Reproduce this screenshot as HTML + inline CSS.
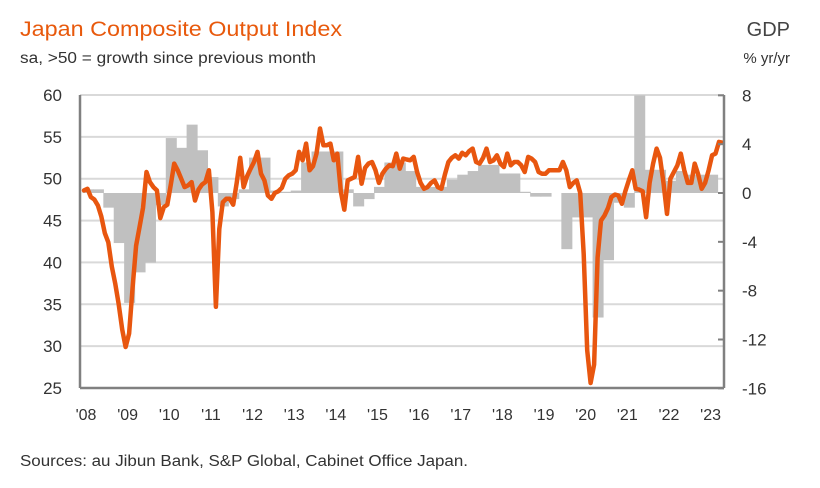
<!DOCTYPE html>
<html><head><meta charset="utf-8">
<style>
body{margin:0;background:#fff;width:820px;height:483px;overflow:hidden;font-family:"Liberation Sans",sans-serif;}
svg text{font-family:"Liberation Sans",sans-serif;}
</style></head>
<body>
<svg id="chart" width="820" height="483" viewBox="0 0 820 483" xmlns="http://www.w3.org/2000/svg">
<text x="20" y="36" font-size="21" fill="#e8590c" textLength="322" lengthAdjust="spacingAndGlyphs">Japan Composite Output Index</text>
<text x="20" y="63" font-size="15.5" fill="#333" textLength="296" lengthAdjust="spacingAndGlyphs">sa, &gt;50 = growth since previous month</text>
<text x="790" y="36" font-size="20" fill="#444" text-anchor="end">GDP</text>
<text x="790" y="63" font-size="15" fill="#333" text-anchor="end">% yr/yr</text>
<text x="20" y="466" font-size="15.5" fill="#333" textLength="448" lengthAdjust="spacingAndGlyphs">Sources: au Jibun Bank, S&amp;P Global, Cabinet Office Japan.</text>
<g id="grid"></g><g id="bars"></g><g id="line"></g><g id="axes"></g>
</svg>
<script>
const pmi=[48.6,48.8,47.8,47.5,46.8,45.5,43.5,42.4,39.5,37.5,35,32,29.9,31.5,37,42,44.2,46.5,50.8,49.6,49,48.6,45.3,46.6,46.9,49.3,51.8,51,50,49,49.2,49.6,47.4,48.7,49.3,49.6,51,46,34.7,44,47.2,47.6,47.6,46.9,49.5,52.5,49,50.3,51.2,52,53.2,50.6,49.8,48,47.6,48.3,48.5,48.9,50,50.4,50.6,51,53.2,52.2,54.2,51,51.5,53,56,54,54,54.2,52.2,53,48.5,46.3,49.8,50,50.2,52.6,49.4,51.3,51.8,52,51,49.5,50.6,51.2,51.6,51.5,53,51.2,52.4,52.3,52.2,52.6,50.8,49.5,48.8,49,49.5,49.8,49,48.8,50.5,52,52.5,52.8,52.4,53.1,52.8,53.3,53.6,52,51.8,52.5,53.6,52,52.2,52.8,51.8,51.4,53,51.6,52,52,51.6,50.8,52.6,52.4,52,50.8,50.6,50.6,51,51,51,51,52,51,49,49.5,49.8,48.3,41,29.5,25.6,27.8,40.6,45,45.6,46.5,47.8,48.1,48,47,48.5,49.8,51,48.8,48.7,48.5,45.4,49.5,51.8,53.6,52.5,49.5,45.8,50,50.8,51.6,53,51,49.5,49.5,51.8,50.5,48.8,49.5,51,52.8,53,54.4,54.3];
const gdp=[0.3,0.3,-1.2,-4.1,-9,-6.5,-5.7,-1,4.5,3.7,5.6,3.5,1.3,-1.1,-0.5,0.3,2.9,2.9,0.2,0.1,0.2,2.5,3.4,3.4,3.4,0.3,-1.1,-0.5,0.5,2.5,2.5,1.8,0.5,0.5,0.5,1.1,1.5,1.8,2.3,2.3,1.6,1.6,0.1,-0.3,-0.3,0.0,-4.6,-2,-2,-10.2,-5.5,-0.8,-1.2,8.5,1.9,1.9,1.0,1.8,1.5,1.5,1.5];
const leftTicks=[60,55,50,45,40,35,30,25];
const rightTicks=[8,4,0,-4,-8,-12,-16];
const yearLabels=["'08","'09","'10","'11","'12","'13","'14","'15","'16","'17","'18","'19","'20","'21","'22","'23"];
const NS="http://www.w3.org/2000/svg";
const X0=84,S=3.47,L=80,R=724,T=95,B=388;
const xm=m=>X0+m*S;
const yl=v=>T+(60-v)*(B-T)/35;
const yr=v=>193-v*(B-T)/24;
function mk(tag,attrs,parent,txt){const e=document.createElementNS(NS,tag);for(const k in attrs)e.setAttribute(k,attrs[k]);if(txt!==undefined)e.textContent=txt;document.getElementById(parent).appendChild(e);return e;}
leftTicks.forEach(v=>{
  if(v>25){const g=mk('line',{x1:L,x2:R,y1:yl(v),y2:yl(v),stroke:'#d9d9d9','stroke-width':2},'grid');
  
  }
  const t=mk('text',{x:62,y:yl(v)+6,'font-size':17,'text-anchor':'end',fill:'#333'},'axes',String(v));
  
  
});
rightTicks.forEach(v=>{
  const t=mk('text',{x:742,y:yr(v)+6,'font-size':17,fill:'#333'},'axes',String(v));
  
  
  const k=mk('line',{x1:R-6,x2:R,y1:yr(v),y2:yr(v),stroke:'#808080','stroke-width':2},'axes');
  
  
});
yearLabels.forEach((s,i)=>{
  const t=mk('text',{x:xm(i*12)+2,y:420,'font-size':16,'text-anchor':'middle',fill:'#333'},'axes',s);
  
  
});
gdp.forEach((v,q)=>{
  const vv=Math.max(-16,Math.min(8,v));
  const y0=yr(0),y1=yr(vv);
  const b=mk('rect',{x:xm(3*q)-1.5,y:Math.min(y0,y1),width:3*S+0.6,height:Math.abs(y1-y0),fill:'#c0c0c0'},'bars');
  
  
});
const pts=pmi.map((v,i)=>xm(i).toFixed(1)+','+yl(v).toFixed(1)).join(' ');
const pl=mk('polyline',{points:pts,fill:'none',stroke:'#e8560f','stroke-width':4.5,'stroke-linejoin':'round','stroke-linecap':'round'},'line');


[[L,T,L,B,'left-axis'],[R,T,R,B,'right-axis'],[L,B,R,B,'x-axis']].forEach(a=>{
  const l=mk('line',{x1:a[0],y1:a[1],x2:a[2],y2:a[3],stroke:'#808080','stroke-width':2.5},'axes');
  
  
});
</script>
</body></html>
